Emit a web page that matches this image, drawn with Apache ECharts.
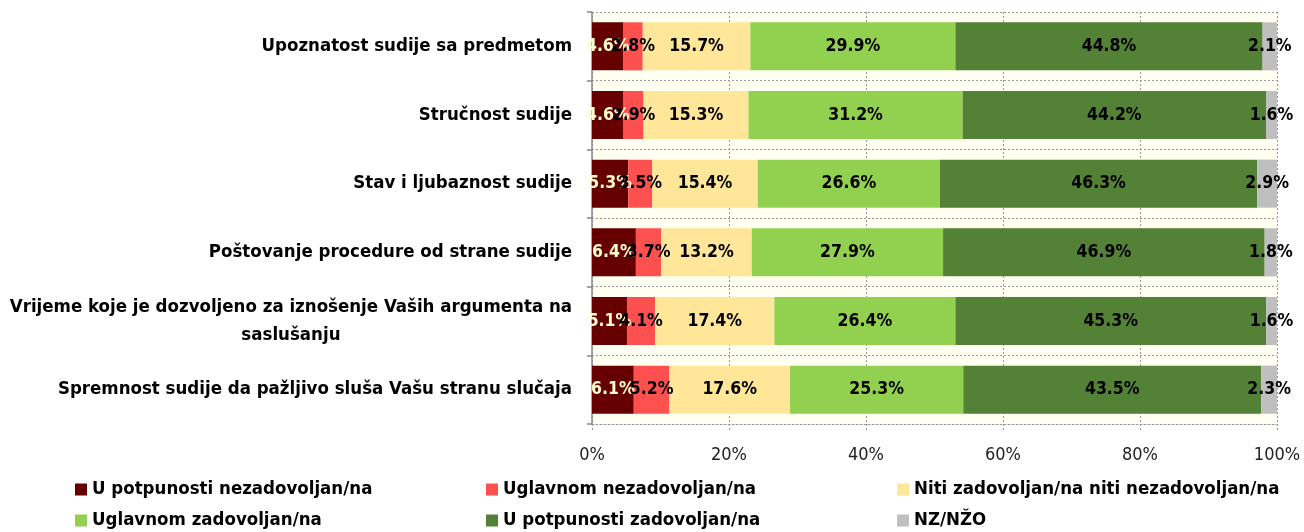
<!DOCTYPE html>
<html>
<head>
<meta charset="utf-8">
<script src="https://cdn.jsdelivr.net/npm/echarts@6/dist/echarts.min.js"></script>
<style>
  html, body { margin: 0; padding: 0; background: #fff; }
  #chart { width: 1304px; height: 532px; }
</style>
</head>
<body>
<div id="chart"></div>
<script>
// kategorije (odozgo prema dolje)
const categories = [
  'Upoznatost sudije sa predmetom',
  'Stručnost sudije',
  'Stav i ljubaznost sudije',
  'Poštovanje procedure od strane sudije',
  'Vrijeme koje je dozvoljeno za iznošenje Vaših argumenta na\nsaslušanju',
  'Spremnost sudije da pažljivo sluša Vašu stranu slučaja'
];

const seriesNames = [
  'U potpunosti nezadovoljan/na',
  'Uglavnom nezadovoljan/na',
  'Niti zadovoljan/na niti nezadovoljan/na',
  'Uglavnom zadovoljan/na',
  'U potpunosti zadovoljan/na',
  'NZ/NŽO'
];

// vrijednosti u %, po seriji
const uPotpunostiNezadovoljan = [4.6, 4.6, 5.3, 6.4, 5.1, 6.1];
const uglavnomNezadovoljan = [2.8, 2.9, 3.5, 3.7, 4.1, 5.2];
const nitiNiti = [15.7, 15.3, 15.4, 13.2, 17.4, 17.6];
const uglavnomZadovoljan = [29.9, 31.2, 26.6, 27.9, 26.4, 25.3];
const uPotpunostiZadovoljan = [44.8, 44.2, 46.3, 46.9, 45.3, 43.5];
const nzNzo = [2.1, 1.6, 2.9, 1.8, 1.6, 2.3];

const xTicks = [0, 20, 40, 60, 80, 100];

const values = [uPotpunostiNezadovoljan, uglavnomNezadovoljan, nitiNiti,
  uglavnomZadovoljan, uPotpunostiZadovoljan, nzNzo];
const colors = ['#660000', '#FF5050', '#FFE699', '#92D050', '#538135', '#BFBFBF'];
const labelColors = ['#FFFFCC', '#000', '#000', '#000', '#000', '#000'];

const FONT = "'Liberation Sans Narrow', 'Arial Narrow', 'DejaVu Sans Condensed', sans-serif";

// 100% stacked: svaki red se normira na zbir
const totals = categories.map((c, i) => values.reduce((s, arr) => s + arr[i], 0));

const chart = echarts.init(document.getElementById('chart'));

const series = seriesNames.map((name, k) => ({
  name: name,
  type: 'bar',
  stack: 'total',
  barCategoryGap: '30%',
  itemStyle: { color: colors[k] },
  label: {
    show: true,
    position: 'inside',
    color: labelColors[k],
    fontFamily: FONT,
    fontWeight: 'bold',
    fontSize: 17.5,
    formatter: p => values[k][p.dataIndex].toFixed(1) + '%'
  },
  data: values[k].map((v, i) => v / totals[i] * 100)
}));

// legenda u 3 kolone, 2 reda
const legendCols = [75, 486, 897];
const legendRows = [480, 511];
const legend = seriesNames.map((name, k) => ({
  data: [name],
  left: legendCols[k % 3],
  top: legendRows[Math.floor(k / 3)],
  padding: 0,
  icon: 'rect',
  itemWidth: 12,
  itemHeight: 12,
  selectedMode: false,
  textStyle: { fontFamily: FONT, fontWeight: 'bold', fontSize: 18.5, color: '#000' }
}));

chart.setOption({
  animation: false,
  legend: legend,
  grid: {
    left: 592, right: 27, top: 12, bottom: 108,
    outerBoundsMode: 'none',
    containLabel: false,
    show: true, backgroundColor: '#FFFFF2', borderWidth: 0
  },
  xAxis: {
    type: 'value',
    min: xTicks[0],
    max: xTicks[xTicks.length - 1],
    interval: 20,
    axisLine: { show: true, lineStyle: { color: '#999', type: [2, 2] } },
    axisTick: { show: true, length: 6, lineStyle: { color: '#999', type: [2, 2] } },
    splitLine: { show: true, lineStyle: { color: '#999', type: [2, 2] } },
    axisLabel: {
      formatter: '{value}%',
      fontFamily: FONT,
      fontSize: 18,
      color: '#222',
      margin: 22
    }
  },
  yAxis: {
    type: 'category',
    inverse: true,
    data: categories,
    axisLine: { show: true, lineStyle: { color: '#888', width: 1.5 } },
    axisTick: { show: true, length: 5, lineStyle: { color: '#888', width: 1.5 } },
    splitLine: { show: true, lineStyle: { color: '#999', type: [2, 2] } },
    axisLabel: {
      margin: 20,
      formatter: v => v.split('\n').map(l => '{t|' + l + '}').join('\n'),
      rich: {
        t: {
          fontFamily: FONT,
          fontWeight: 'bold',
          fontSize: 18.5,
          color: '#000',
          lineHeight: 28,
          align: 'center'
        }
      }
    }
  },
  series: series
});
</script>
</body>
</html>
